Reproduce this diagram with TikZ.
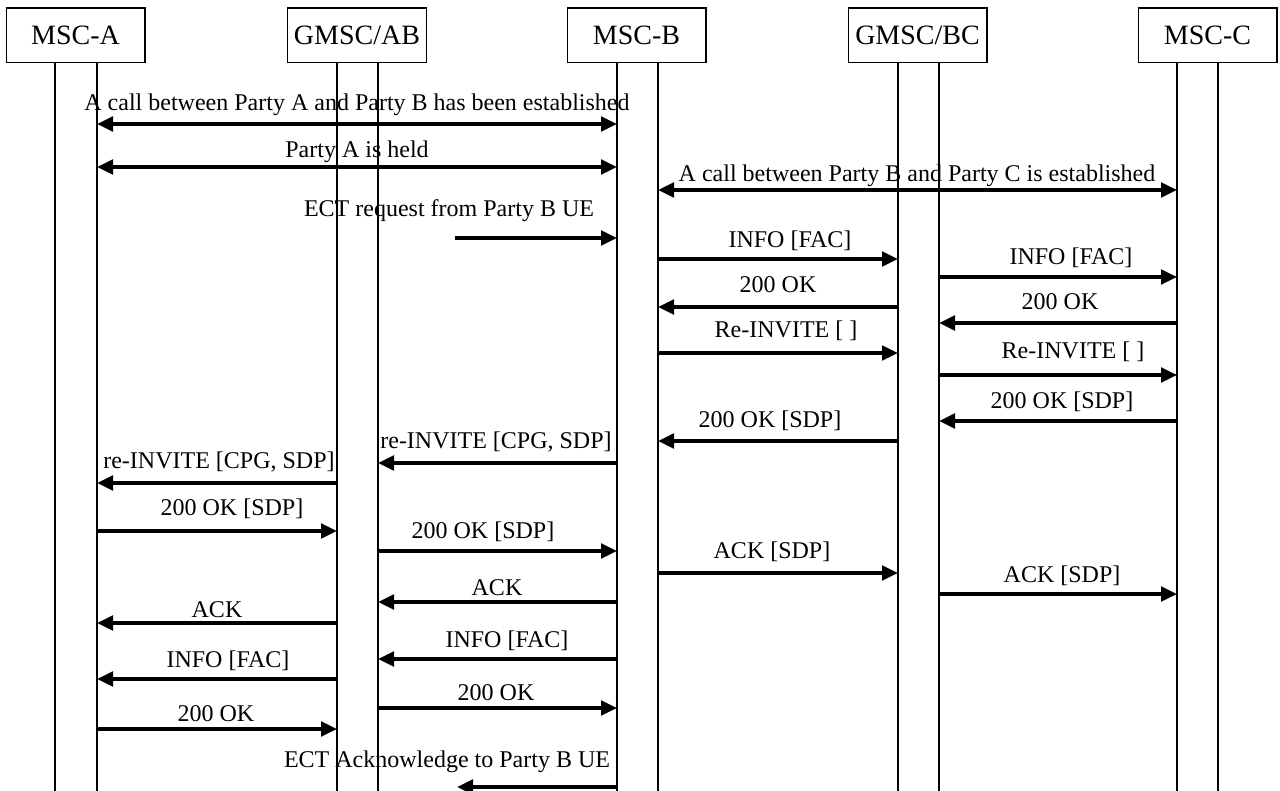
\documentclass[tikz,border=0pt]{standalone}
\usepackage{fontspec}
\setmainfont{Liberation Serif}
\usetikzlibrary{arrows.meta}
\begin{document}
\begin{tikzpicture}[x=0.75pt,y=-0.75pt,
  lbl/.style={font=\fontsize{18}{21}\selectfont, inner sep=0pt, anchor=base},
  msg/.style={line width=2.5pt, -{Triangle[length=12pt,width=11pt]}},
  bmsg/.style={line width=2.5pt, {Triangle[length=12pt,width=11pt]}-{Triangle[length=12pt,width=11pt]}},
  life/.style={line width=1pt},
  ent/.style={draw, line width=1pt, minimum width=104pt, minimum height=41pt, inner sep=0pt, font=\fontsize{21}{24}\selectfont}]
\useasboundingbox (0,0) rectangle (1280,791);
% entities
\node[ent] (eA)  at (75.5,35.5)  {MSC-A};
\node[ent] (eAB) at (357,35.5)   {GMSC/AB};
\node[ent] (eB)  at (636.5,35.5) {MSC-B};
\node[ent] (eBC) at (917.5,35.5) {GMSC/BC};
\node[ent] (eC)  at (1207.5,35.5){MSC-C};
% lifelines
\coordinate (A1) at (55,63);   \coordinate (A2) at (97,63);
\coordinate (AB1) at (337,63); \coordinate (AB2) at (378,63);
\coordinate (B1) at (617,63);  \coordinate (B2) at (658,63);
\coordinate (BC1) at (898,63); \coordinate (BC2) at (939,63);
\coordinate (C1) at (1177,63); \coordinate (C2) at (1218,63);
\coordinate (bot) at (0,791);
\foreach \l in {A1,A2,AB1,AB2,B1,B2,BC1,BC2,C1,C2}
  \draw[life] (\l) -- (\l |- bot);
% free ends
\coordinate (ectS) at (455,238);
\coordinate (ectE) at (457,787);
% messages
\draw[bmsg] (A2 |- 0,124) -- (B1 |- 0,124);
\node[lbl] (t1) at (357,111) {A call between Party A and Party B has been established};
\draw[bmsg] (A2 |- 0,167) -- (B1 |- 0,167);
\node[lbl] (t2) at (357,158) {Party A is held};
\draw[bmsg] (B2 |- 0,190) -- (C1 |- 0,190);
\node[lbl] (t3) at (917,182) {A call between Party B and Party C is established};
\draw[msg] (ectS) -- (B1 |- ectS);
\node[lbl] (t4) at (449,217) {ECT request from Party B UE};
\draw[msg] (B2 |- 0,259) -- (BC1 |- 0,259);
\node[lbl] (t5) at (790,248) {INFO [FAC]};
\draw[msg] (BC2 |- 0,277) -- (C1 |- 0,277);
\node[lbl] (t6) at (1071,265) {INFO [FAC]};
\draw[msg] (BC1 |- 0,307) -- (B2 |- 0,307);
\node[lbl] (t7) at (778,293) {200 OK};
\draw[msg] (C1 |- 0,323) -- (BC2 |- 0,323);
\node[lbl] (t8) at (1060,310) {200 OK};
\draw[msg] (B2 |- 0,353) -- (BC1 |- 0,353);
\node[lbl] (t9) at (786,337) {Re-INVITE [ ]};
\draw[msg] (BC2 |- 0,375) -- (C1 |- 0,375);
\node[lbl] (t10) at (1073,358) {Re-INVITE [ ]};
\draw[msg] (C1 |- 0,421) -- (BC2 |- 0,421);
\node[lbl] (t11) at (1062,408) {200 OK [SDP]};
\draw[msg] (BC1 |- 0,441) -- (B2 |- 0,441);
\node[lbl] (t12) at (770,427) {200 OK [SDP]};
\draw[msg] (B1 |- 0,463) -- (AB2 |- 0,463);
\node[lbl] (t13) at (496,448) {re-INVITE [CPG, SDP]};
\draw[msg] (AB1 |- 0,483) -- (A2 |- 0,483);
\node[lbl] (t14) at (219,468) {re-INVITE [CPG, SDP]};
\draw[msg] (A2 |- 0,531) -- (AB1 |- 0,531);
\node[lbl] (t15) at (232,515) {200 OK [SDP]};
\draw[msg] (AB2 |- 0,551) -- (B1 |- 0,551);
\node[lbl] (t16) at (483,538) {200 OK [SDP]};
\draw[msg] (B2 |- 0,573) -- (BC1 |- 0,573);
\node[lbl] (t17) at (772,558) {ACK [SDP]};
\draw[msg] (BC2 |- 0,594) -- (C1 |- 0,594);
\node[lbl] (t18) at (1062,582) {ACK [SDP]};
\draw[msg] (B1 |- 0,602) -- (AB2 |- 0,602);
\node[lbl] (t19) at (497,595) {ACK};
\draw[msg] (AB1 |- 0,623) -- (A2 |- 0,623);
\node[lbl] (t20) at (217,617) {ACK};
\draw[msg] (B1 |- 0,659) -- (AB2 |- 0,659);
\node[lbl] (t21) at (507,647) {INFO [FAC]};
\draw[msg] (AB1 |- 0,679) -- (A2 |- 0,679);
\node[lbl] (t22) at (228,667) {INFO [FAC]};
\draw[msg] (AB2 |- 0,708) -- (B1 |- 0,708);
\node[lbl] (t23) at (496,700) {200 OK};
\draw[msg] (A2 |- 0,729) -- (AB1 |- 0,729);
\node[lbl] (t24) at (216,721) {200 OK};
\draw[msg] (B1 |- ectE) -- (ectE);
\node[lbl] (t25) at (447,767) {ECT Acknowledge to Party B UE};
\end{tikzpicture}
\end{document}
